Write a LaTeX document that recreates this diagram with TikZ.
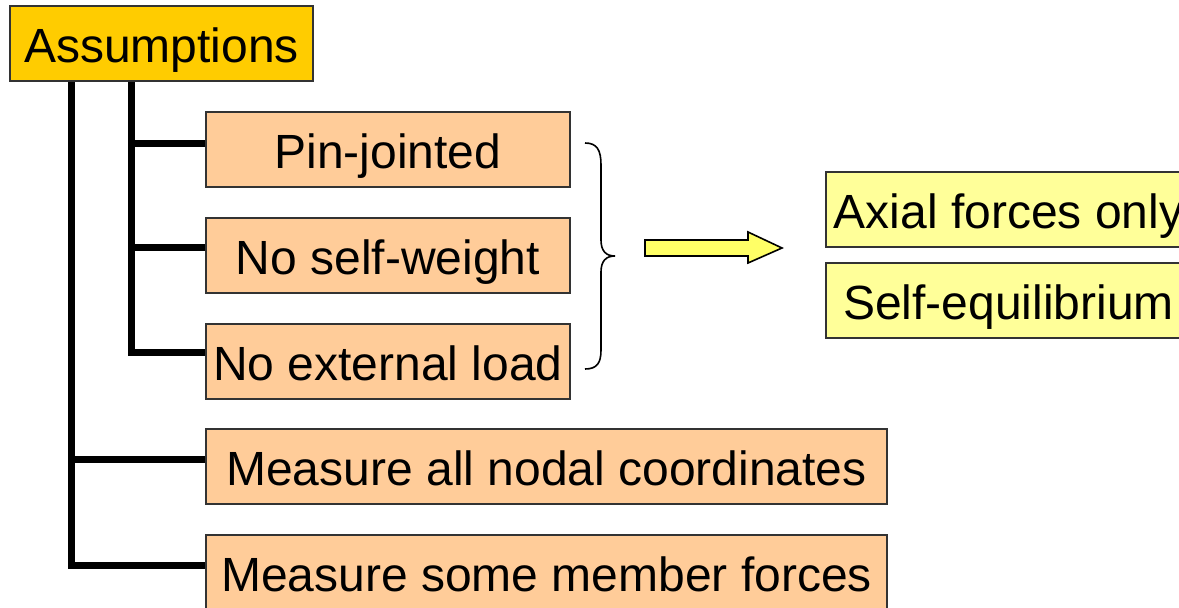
\documentclass[tikz,border=0pt]{standalone}
\usepackage{fontspec}
\setmainfont{Liberation Sans}
\definecolor{gold}{HTML}{FFCC00}
\definecolor{peach}{HTML}{FFCC99}
\definecolor{paleyel}{HTML}{FFFF99}
\definecolor{arrowyel}{HTML}{FFFF66}
\definecolor{edge}{HTML}{333333}
\tikzset{
  box/.style={draw=edge, line width=1.5pt, inner sep=0pt, text height=37pt, text depth=0pt,
    font=\fontsize{48}{57}\selectfont, minimum height=75pt},
  conn/.style={draw=black, line width=7pt, line join=miter},
  bracepath/.style={draw=black, line width=1.6pt},
  fatarrow/.style={draw=black, line width=1.6pt, fill=arrowyel, line join=miter}
}
\begin{document}
\begin{tikzpicture}[x=1pt,y=-1pt]
\clip (0,0) rectangle (1179,608);
\fill[white] (0,0) rectangle (1179,608);
% nodes
\node[box, fill=gold, minimum width=303pt] (asm) at (161.5,43.5) {Assumptions};
\node[box, fill=peach, minimum width=364pt] (pj) at (388,149.5) {Pin-jointed};
\node[box, fill=peach, minimum width=364pt] (sw) at (388,255.5) {No self-weight};
\node[box, fill=peach, minimum width=364pt] (el) at (388,361.5) {No external load};
\node[box, fill=peach, minimum width=681pt] (ma) at (546.5,466.5) {Measure all nodal coordinates};
\node[box, fill=peach, minimum width=681pt] (mb) at (546.5,572.5) {Measure some member forces};
\node[box, fill=paleyel, minimum width=365pt] (ax) at (1008.5,209.5) {Axial forces only};
\node[box, fill=paleyel, minimum width=365pt] (se) at (1008.5,300.5) {Self-equilibrium};
% connectors
\coordinate (outerx) at (71,0);
\coordinate (innerx) at (131,0);
\draw[conn] (asm.south -| outerx) |- ([yshift=7.5pt]mb.west);
\draw[conn] ([yshift=7.5pt]ma.west) -- ([yshift=7.5pt]ma.west -| outerx);
\draw[conn] (asm.south -| innerx) |- ([yshift=9.5pt]el.west);
\draw[conn] ([yshift=6.5pt]pj.west) -- ([yshift=6.5pt]pj.west -| innerx);
\draw[conn] ([yshift=8.5pt]sw.west) -- ([yshift=8.5pt]sw.west -| innerx);
% brace
\draw[bracepath] (585,143) .. controls (597,143) and (601,150) .. (601,165) -- (601,240)
  .. controls (601,251) and (606,256) .. (615,256)
  .. controls (606,256) and (601,261) .. (601,272) -- (601,350)
  .. controls (601,363) and (597,369) .. (585,369);
% arrow
\draw[fatarrow] (645,240) -- (748,240) -- (748,232) -- (782,248) -- (748,263) -- (748,256) -- (645,256) -- cycle;
\end{tikzpicture}
\end{document}
